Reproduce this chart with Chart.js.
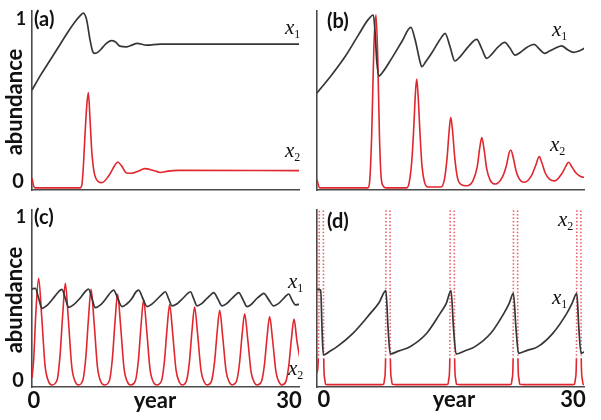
<!DOCTYPE html>
<html>
<head>
<meta charset="utf-8">
<script src="https://cdn.jsdelivr.net/npm/chart.js@4/dist/chart.umd.min.js"></script>
<style>
  body { margin: 0; background: #fff; }
  #fig { position: relative; width: 601px; height: 420px; overflow: hidden; background: #fff; }
  .panel { position: absolute; }
  .lbl { position: absolute; font-family: Lato, "Open Sans", sans-serif; font-weight: bold; line-height: 1; white-space: nowrap; color: #111; text-align: center; }
  .var { position: absolute; font-family: "Liberation Serif", "DejaVu Serif", serif; font-style: italic; font-size: 21px; line-height: 1; color: #111; white-space: nowrap; }
  .var sub { font-size: 12px; font-style: normal; vertical-align: -4px; line-height: 0; }
  .ylab { position: absolute; width: 200px; font-family: Lato, "Open Sans", sans-serif; font-weight: bold; font-size: 22px; line-height: 1; text-align: center; color: #111; transform: translate(-50%, -50%) rotate(-90deg); }
</style>
</head>
<body>
<div id="fig">
  <canvas id="chartA" class="panel" style="left:0;top:0" width="300" height="200"></canvas>
  <canvas id="chartB" class="panel" style="left:300px;top:0" width="301" height="200"></canvas>
  <canvas id="chartC" class="panel" style="left:0;top:200px" width="300" height="220"></canvas>
  <canvas id="chartD" class="panel" style="left:300px;top:200px" width="301" height="220"></canvas>

  <div class="lbl" style="left:34px;top:8px;font-size:20px">(a)</div>
  <div class="lbl" style="left:327px;top:10px;font-size:20px">(b)</div>
  <div class="lbl" style="left:34px;top:206px;font-size:20px">(c)</div>
  <div class="lbl" style="left:327px;top:210px;font-size:20px">(d)</div>

  <div class="lbl" style="left:11px;width:20px;top:9px;font-size:18px">1</div>
  <div class="lbl" style="left:8px;width:20px;top:170px;font-size:20px">0</div>
  <div class="lbl" style="left:11px;width:20px;top:207px;font-size:18px">1</div>
  <div class="lbl" style="left:8px;width:20px;top:369px;font-size:20px">0</div>
  <div class="ylab" style="left:14px;top:102px">abundance</div>
  <div class="ylab" style="left:14px;top:300px">abundance</div>

  <div class="lbl" style="left:19px;width:30px;top:389px;font-size:22px">0</div>
  <div class="lbl" style="left:125px;width:60px;top:389px;font-size:22px">year</div>
  <div class="lbl" style="left:269px;width:40px;top:389px;font-size:22px">30</div>
  <div class="lbl" style="left:309px;width:30px;top:388px;font-size:22px">0</div>
  <div class="lbl" style="left:424px;width:60px;top:388px;font-size:22px">year</div>
  <div class="lbl" style="left:553px;width:40px;top:388px;font-size:22px">30</div>

  <div class="var" style="left:285px;top:17px">x<sub>1</sub></div>
  <div class="var" style="left:285px;top:140px">x<sub>2</sub></div>
  <div class="var" style="left:552px;top:19px">x<sub>1</sub></div>
  <div class="var" style="left:550px;top:134px">x<sub>2</sub></div>
  <div class="var" style="left:288px;top:271px">x<sub>1</sub></div>
  <div class="var" style="left:288px;top:358px">x<sub>2</sub></div>
  <div class="var" style="left:558px;top:209px">x<sub>2</sub></div>
  <div class="var" style="left:552px;top:287px">x<sub>1</sub></div>
</div>

<script>
// ---- panel (a): damped, settles to equilibrium ----
const aTimeX1 = [0, 1, 2.1, 3, 4.1, 5, 5.6, 5.96, 6.35, 6.74, 7.05, 7.3, 7.7, 8.1, 8.6, 9.2, 9.7, 10.2, 11.0, 11.6, 12.2, 13.3, 14.9, 17, 31];
const aX1 = [0.56, 0.645, 0.73, 0.80, 0.886, 0.95, 0.985, 1.0, 0.96, 0.846, 0.78, 0.77, 0.778, 0.798, 0.825, 0.842, 0.835, 0.811, 0.807, 0.817, 0.827, 0.817, 0.823, 0.822, 0.822];
const aTimeX2 = [0, 0.2, 0.4, 5.6, 5.8, 5.96, 6.16, 6.35, 6.54, 6.74, 6.93, 7.2, 7.7, 8.1, 8.86, 9.64, 9.95, 10.4, 11.0, 11.6, 12.3, 13.1, 14.1, 14.9, 15.8, 17, 31];
const aX2 = [0.055, 0.01, 0, 0, 0.02, 0.12, 0.31, 0.465, 0.545, 0.39, 0.217, 0.093, 0.036, 0.03, 0.065, 0.131, 0.148, 0.126, 0.085, 0.084, 0.095, 0.11, 0.1, 0.088, 0.096, 0.1, 0.099];

// ---- panel (b): slowly damped oscillation ----
const bTimeX1 = [0, 1.7, 3.25, 4.8, 5.96, 6.54, 6.74, 6.93, 7.2, 7.6, 8.67, 9.84, 10.9, 11.4, 11.96, 12.16, 12.6, 13.3, 14.5, 14.87, 15.45, 16.0, 16.6, 17.6, 18.55, 19.1, 19.7, 20.3, 21.0, 21.8, 22.4, 23.0, 23.6, 24.4, 25.2, 25.8, 26.4, 27.0, 27.7, 28.4, 29.1, 29.8, 30.5, 31.1];
const bX1 = [0.543, 0.646, 0.75, 0.874, 0.964, 0.989, 0.893, 0.731, 0.64, 0.66, 0.741, 0.836, 0.918, 0.846, 0.722, 0.693, 0.72, 0.77, 0.865, 0.884, 0.807, 0.726, 0.75, 0.81, 0.85, 0.80, 0.741, 0.765, 0.805, 0.833, 0.80, 0.76, 0.775, 0.805, 0.821, 0.795, 0.77, 0.783, 0.80, 0.813, 0.79, 0.775, 0.785, 0.80];
const bTimeX2 = [0, 0.3, 5.9, 6.1, 6.35, 6.6, 6.85, 7.05, 7.25, 7.45, 7.7, 8.0, 10.4, 10.7, 11.0, 11.2, 11.45, 11.58, 11.75, 11.96, 12.2, 12.5, 12.9, 14.4, 14.8, 15.1, 15.35, 15.53, 15.75, 16.0, 16.3, 16.7, 17.4, 18.1, 18.6, 18.9, 19.13, 19.4, 19.7, 20.1, 20.7, 21.5, 22.0, 22.3, 22.5, 22.8, 23.1, 23.5, 24.1, 24.9, 25.4, 25.8, 26.1, 26.5, 27.0, 27.6, 28.4, 28.9, 29.2, 29.6, 30.0, 30.6, 31.1];
const bX2 = [0.046, 0, 0, 0.03, 0.3, 0.8, 0.99, 0.75, 0.3, 0.06, 0.01, 0, 0, 0.03, 0.15, 0.31, 0.56, 0.623, 0.52, 0.31, 0.12, 0.03, 0.005, 0.005, 0.05, 0.17, 0.33, 0.404, 0.32, 0.17, 0.06, 0.02, 0.012, 0.04, 0.12, 0.23, 0.288, 0.22, 0.11, 0.045, 0.022, 0.06, 0.13, 0.2, 0.217, 0.17, 0.1, 0.05, 0.032, 0.07, 0.13, 0.179, 0.145, 0.085, 0.05, 0.04, 0.08, 0.125, 0.147, 0.12, 0.09, 0.065, 0.06];

// ---- panel (c): sustained cycles ----
const cTimeX1 = [0, 0.39, 0.78, 1.16, 1.75, 2.45, 3.1, 3.48, 3.87, 4.25, 4.85, 5.55, 6.2, 6.57, 6.96, 7.35, 7.95, 8.6, 9.15, 9.48, 9.96, 10.45, 11.0, 11.6, 12.05, 12.38, 12.87, 13.36, 13.95, 14.6, 15.15, 15.48, 15.87, 16.26, 16.85, 17.5, 18.05, 18.4, 18.78, 19.17, 19.7, 20.3, 20.8, 21.1, 21.6, 22.07, 22.6, 23.2, 23.7, 24.0, 24.5, 24.97, 25.5, 26.1, 26.6, 26.9, 27.5, 28.06, 28.6, 29.2, 29.55, 29.8, 30.2, 30.6, 31.15];
const cX1 = [0.556, 0.559, 0.50, 0.443, 0.46, 0.50, 0.54, 0.553, 0.50, 0.449, 0.465, 0.50, 0.541, 0.555, 0.50, 0.447, 0.463, 0.50, 0.536, 0.549, 0.50, 0.453, 0.468, 0.50, 0.537, 0.549, 0.50, 0.453, 0.469, 0.50, 0.527, 0.539, 0.498, 0.457, 0.47, 0.50, 0.528, 0.539, 0.498, 0.457, 0.47, 0.50, 0.524, 0.534, 0.495, 0.457, 0.47, 0.50, 0.524, 0.534, 0.493, 0.453, 0.468, 0.50, 0.52, 0.53, 0.492, 0.457, 0.47, 0.50, 0.518, 0.526, 0.49, 0.463, 0.468];
const cTimeX2 = [0, 0.2, 0.45, 0.77, 1.12, 1.52, 1.92, 2.3,
  2.92, 3.27, 3.57, 3.87, 4.22, 4.62, 5.02, 5.4,
  5.91, 6.26, 6.56, 6.86, 7.21, 7.61, 8.01, 8.4,
  8.99, 9.34, 9.64, 9.94, 10.29, 10.69, 11.09, 11.45,
  12.01, 12.36, 12.66, 12.96, 13.31, 13.71, 14.11, 14.47,
  15.03, 15.38, 15.68, 15.98, 16.33, 16.73, 17.13, 17.43,
  17.93, 18.28, 18.58, 18.88, 19.23, 19.63, 20.03, 20.33,
  20.84, 21.19, 21.49, 21.79, 22.14, 22.54, 22.94, 23.24,
  23.74, 24.09, 24.39, 24.69, 25.04, 25.44, 25.84, 26.14,
  26.64, 26.99, 27.29, 27.59, 27.94, 28.34, 28.74, 29.0,
  29.47, 29.82, 30.12, 30.42, 30.77, 31.15];
const cX2 = [0.04, 0.15, 0.42, 0.617, 0.40, 0.11, 0.02, 0,
  0.03, 0.18, 0.41, 0.588, 0.38, 0.105, 0.018, 0,
  0.028, 0.166, 0.387, 0.553, 0.36, 0.1, 0.017, 0,
  0.026, 0.157, 0.367, 0.524, 0.34, 0.094, 0.016, 0,
  0.025, 0.147, 0.344, 0.491, 0.32, 0.088, 0.015, 0,
  0.023, 0.14, 0.326, 0.465, 0.30, 0.084, 0.014, 0,
  0.023, 0.135, 0.316, 0.451, 0.293, 0.081, 0.014, 0,
  0.022, 0.13, 0.302, 0.432, 0.28, 0.078, 0.013, 0,
  0.021, 0.124, 0.288, 0.412, 0.268, 0.074, 0.012, 0,
  0.02, 0.119, 0.277, 0.395, 0.257, 0.071, 0.012, 0,
  0.019, 0.114, 0.267, 0.381, 0.25, 0.14];

// ---- panel (d): outbreaks (x2 spikes run off the top) ----
const dTimeX1 = [0, 0.43, 0.58, 0.73, 1.5, 2.3, 4.2, 6.2, 7.2, 8.0, 8.25, 8.5, 9.5, 10.8, 12.74, 14.3, 15.0, 15.56, 15.85, 16.15, 17.2, 18.3, 20.2, 21.7, 22.3, 22.8, 23.1, 23.4, 24.4, 25.6, 27.4, 29.0, 29.6, 30.16, 30.4, 30.65, 30.9, 31.1];
const dX1 = [0.553, 0.549, 0.33, 0.173, 0.195, 0.22, 0.30, 0.414, 0.475, 0.545, 0.33, 0.179, 0.197, 0.221, 0.299, 0.414, 0.47, 0.545, 0.33, 0.179, 0.198, 0.22, 0.30, 0.414, 0.47, 0.53, 0.33, 0.183, 0.20, 0.22, 0.30, 0.414, 0.47, 0.53, 0.33, 0.183, 0.188, 0.192];
const dTimeX2 = [0, 0.15, 0.27, 0.5, 0.73, 0.78, 0.88, 1.0, 1.5,
  7.5, 7.74, 7.86, 7.96, 8.01, 8.24, 8.47, 8.52, 8.62, 8.74, 9.2,
  14.96, 15.2, 15.32, 15.42, 15.47, 15.7, 15.93, 15.98, 16.08, 16.2, 16.7,
  22.3, 22.55, 22.67, 22.77, 22.82, 23.05, 23.28, 23.33, 23.43, 23.55, 24.0,
  29.65, 29.9, 30.02, 30.12, 30.17, 30.4, 30.63, 30.68, 30.78, 30.9, 31.1];
const dX2 = [0.07, 0.15, 1.1, 8, 1.1, 0.15, 0.04, 0.003, 0.002,
  0.002, 0.004, 0.04, 0.15, 1.1, 8, 1.1, 0.15, 0.04, 0.004, 0.002,
  0.002, 0.004, 0.04, 0.15, 1.1, 8, 1.1, 0.15, 0.04, 0.004, 0.002,
  0.002, 0.004, 0.04, 0.15, 1.1, 8, 1.1, 0.15, 0.04, 0.004, 0.002,
  0.002, 0.004, 0.04, 0.15, 1.1, 8, 1.1, 0.15, 0.04, 0.004, 0.002];

const X_MAX = 31;
const Y_MIN = -0.012, Y_MAX = 1.012;
const BLACK = '#363636';
const RED = '#e0262e';

function pts(ts, ys) {
  return ts.map((t, i) => ({ x: t, y: ys[i] }));
}

function axis(min, max) {
  return {
    type: 'linear', min: min, max: max,
    grid: { display: false, drawTicks: false },
    ticks: { display: false },
    border: { display: true, color: '#4a4a4a', width: 1.6 }
  };
}

function makePanel(id, t1, y1, t2, y2, padding, spiky) {
  const red = {
    data: pts(t2, y2),
    borderColor: RED,
    borderWidth: 1.6,
    pointRadius: 0,
    cubicInterpolationMode: 'monotone'
  };
  if (spiky) {
    // the tall part of each spike is drawn dotted, as in the figure
    const tall = c => c.p0.parsed.y >= 0.15 && c.p1.parsed.y >= 0.15;
    red.segment = {
      borderDash: c => tall(c) ? [1.5, 2] : undefined,
      borderColor: c => tall(c) ? 'rgba(226,60,70,0.8)' : undefined
    };
  }
  return new Chart(document.getElementById(id), {
    type: 'line',
    data: {
      datasets: [
        { data: pts(t1, y1), borderColor: BLACK, borderWidth: 1.7, pointRadius: 0, cubicInterpolationMode: 'monotone' },
        red
      ]
    },
    options: {
      responsive: false,
      animation: false,
      events: [],
      layout: { padding: padding },
      plugins: { legend: { display: false }, tooltip: { enabled: false } },
      scales: { x: axis(0, X_MAX), y: axis(Y_MIN, Y_MAX) }
    }
  });
}

makePanel('chartA', aTimeX1, aX1, aTimeX2, aX2, { left: 32, right: 1, top: 11, bottom: 10 }, false);
makePanel('chartB', bTimeX1, bX1, bTimeX2, bX2, { left: 17, right: 17, top: 11, bottom: 10 }, false);
makePanel('chartC', cTimeX1, cX1, cTimeX2, cX2, { left: 32, right: 1, top: 10, bottom: 33 }, false);
makePanel('chartD', dTimeX1, dX1, dTimeX2, dX2, { left: 17, right: 17, top: 10, bottom: 33 }, true);
</script>
</body>
</html>
